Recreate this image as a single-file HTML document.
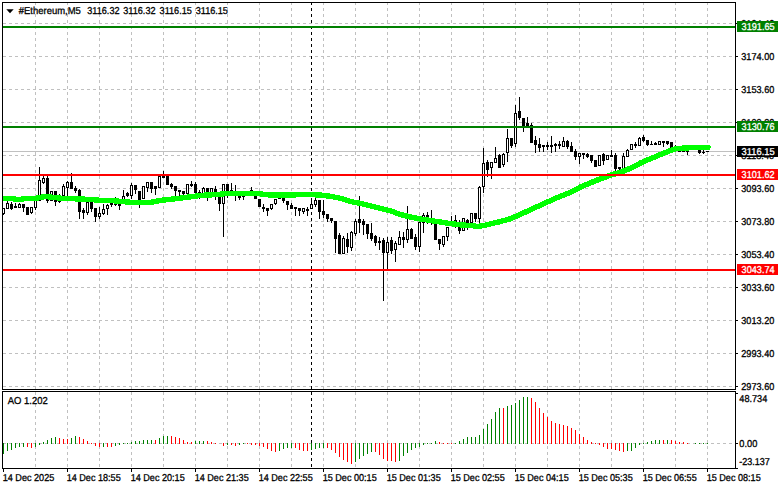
<!DOCTYPE html>
<html><head><meta charset="utf-8"><title>#Ethereum,M5</title>
<style>html,body{margin:0;padding:0;background:#fff;}body{width:781px;height:489px;overflow:hidden;font-family:"Liberation Sans",sans-serif;}svg{display:block;}</style>
</head><body>
<svg width="781" height="489" viewBox="0 0 781 489">
<rect x="0" y="0" width="781" height="489" fill="#fff"/>
<g shape-rendering="crispEdges">
<path d="M3 23.5H735" stroke="#c0c0c0" stroke-width="1" stroke-dasharray="3 3" fill="none"/>
<path d="M3 56.5H735" stroke="#c0c0c0" stroke-width="1" stroke-dasharray="3 3" fill="none"/>
<path d="M3 89.5H735" stroke="#c0c0c0" stroke-width="1" stroke-dasharray="3 3" fill="none"/>
<path d="M3 122.5H735" stroke="#c0c0c0" stroke-width="1" stroke-dasharray="3 3" fill="none"/>
<path d="M3 155.5H735" stroke="#c0c0c0" stroke-width="1" stroke-dasharray="3 3" fill="none"/>
<path d="M3 188.5H735" stroke="#c0c0c0" stroke-width="1" stroke-dasharray="3 3" fill="none"/>
<path d="M3 221.5H735" stroke="#c0c0c0" stroke-width="1" stroke-dasharray="3 3" fill="none"/>
<path d="M3 254.5H735" stroke="#c0c0c0" stroke-width="1" stroke-dasharray="3 3" fill="none"/>
<path d="M3 287.5H735" stroke="#c0c0c0" stroke-width="1" stroke-dasharray="3 3" fill="none"/>
<path d="M3 320.5H735" stroke="#c0c0c0" stroke-width="1" stroke-dasharray="3 3" fill="none"/>
<path d="M3 353.5H735" stroke="#c0c0c0" stroke-width="1" stroke-dasharray="3 3" fill="none"/>
<path d="M3 386.5H735" stroke="#c0c0c0" stroke-width="1" stroke-dasharray="3 3" fill="none"/>
<path d="M3 443.5H735" stroke="#c0c0c0" stroke-width="1" stroke-dasharray="3 3" fill="none"/>
<path d="M35.5 2V389" stroke="#c0c0c0" stroke-width="1" stroke-dasharray="3 3" fill="none"/>
<path d="M35.5 392V468" stroke="#c0c0c0" stroke-width="1" stroke-dasharray="3 3" stroke-dashoffset="0" fill="none"/>
<path d="M67.5 2V389" stroke="#c0c0c0" stroke-width="1" stroke-dasharray="3 3" fill="none"/>
<path d="M67.5 392V468" stroke="#c0c0c0" stroke-width="1" stroke-dasharray="3 3" stroke-dashoffset="0" fill="none"/>
<path d="M99.5 2V389" stroke="#c0c0c0" stroke-width="1" stroke-dasharray="3 3" fill="none"/>
<path d="M99.5 392V468" stroke="#c0c0c0" stroke-width="1" stroke-dasharray="3 3" stroke-dashoffset="0" fill="none"/>
<path d="M131.5 2V389" stroke="#c0c0c0" stroke-width="1" stroke-dasharray="3 3" fill="none"/>
<path d="M131.5 392V468" stroke="#c0c0c0" stroke-width="1" stroke-dasharray="3 3" stroke-dashoffset="0" fill="none"/>
<path d="M163.5 2V389" stroke="#c0c0c0" stroke-width="1" stroke-dasharray="3 3" fill="none"/>
<path d="M163.5 392V468" stroke="#c0c0c0" stroke-width="1" stroke-dasharray="3 3" stroke-dashoffset="0" fill="none"/>
<path d="M195.5 2V389" stroke="#c0c0c0" stroke-width="1" stroke-dasharray="3 3" fill="none"/>
<path d="M195.5 392V468" stroke="#c0c0c0" stroke-width="1" stroke-dasharray="3 3" stroke-dashoffset="0" fill="none"/>
<path d="M227.5 2V389" stroke="#c0c0c0" stroke-width="1" stroke-dasharray="3 3" fill="none"/>
<path d="M227.5 392V468" stroke="#c0c0c0" stroke-width="1" stroke-dasharray="3 3" stroke-dashoffset="0" fill="none"/>
<path d="M259.5 2V389" stroke="#c0c0c0" stroke-width="1" stroke-dasharray="3 3" fill="none"/>
<path d="M259.5 392V468" stroke="#c0c0c0" stroke-width="1" stroke-dasharray="3 3" stroke-dashoffset="0" fill="none"/>
<path d="M291.5 2V389" stroke="#c0c0c0" stroke-width="1" stroke-dasharray="3 3" fill="none"/>
<path d="M291.5 392V468" stroke="#c0c0c0" stroke-width="1" stroke-dasharray="3 3" stroke-dashoffset="0" fill="none"/>
<path d="M323.5 2V389" stroke="#c0c0c0" stroke-width="1" stroke-dasharray="3 3" fill="none"/>
<path d="M323.5 392V468" stroke="#c0c0c0" stroke-width="1" stroke-dasharray="3 3" stroke-dashoffset="0" fill="none"/>
<path d="M355.5 2V389" stroke="#c0c0c0" stroke-width="1" stroke-dasharray="3 3" fill="none"/>
<path d="M355.5 392V468" stroke="#c0c0c0" stroke-width="1" stroke-dasharray="3 3" stroke-dashoffset="0" fill="none"/>
<path d="M387.5 2V389" stroke="#c0c0c0" stroke-width="1" stroke-dasharray="3 3" fill="none"/>
<path d="M387.5 392V468" stroke="#c0c0c0" stroke-width="1" stroke-dasharray="3 3" stroke-dashoffset="0" fill="none"/>
<path d="M419.5 2V389" stroke="#c0c0c0" stroke-width="1" stroke-dasharray="3 3" fill="none"/>
<path d="M419.5 392V468" stroke="#c0c0c0" stroke-width="1" stroke-dasharray="3 3" stroke-dashoffset="0" fill="none"/>
<path d="M451.5 2V389" stroke="#c0c0c0" stroke-width="1" stroke-dasharray="3 3" fill="none"/>
<path d="M451.5 392V468" stroke="#c0c0c0" stroke-width="1" stroke-dasharray="3 3" stroke-dashoffset="0" fill="none"/>
<path d="M483.5 2V389" stroke="#c0c0c0" stroke-width="1" stroke-dasharray="3 3" fill="none"/>
<path d="M483.5 392V468" stroke="#c0c0c0" stroke-width="1" stroke-dasharray="3 3" stroke-dashoffset="0" fill="none"/>
<path d="M515.5 2V389" stroke="#c0c0c0" stroke-width="1" stroke-dasharray="3 3" fill="none"/>
<path d="M515.5 392V468" stroke="#c0c0c0" stroke-width="1" stroke-dasharray="3 3" stroke-dashoffset="0" fill="none"/>
<path d="M547.5 2V389" stroke="#c0c0c0" stroke-width="1" stroke-dasharray="3 3" fill="none"/>
<path d="M547.5 392V468" stroke="#c0c0c0" stroke-width="1" stroke-dasharray="3 3" stroke-dashoffset="0" fill="none"/>
<path d="M579.5 2V389" stroke="#c0c0c0" stroke-width="1" stroke-dasharray="3 3" fill="none"/>
<path d="M579.5 392V468" stroke="#c0c0c0" stroke-width="1" stroke-dasharray="3 3" stroke-dashoffset="0" fill="none"/>
<path d="M611.5 2V389" stroke="#c0c0c0" stroke-width="1" stroke-dasharray="3 3" fill="none"/>
<path d="M611.5 392V468" stroke="#c0c0c0" stroke-width="1" stroke-dasharray="3 3" stroke-dashoffset="0" fill="none"/>
<path d="M643.5 2V389" stroke="#c0c0c0" stroke-width="1" stroke-dasharray="3 3" fill="none"/>
<path d="M643.5 392V468" stroke="#c0c0c0" stroke-width="1" stroke-dasharray="3 3" stroke-dashoffset="0" fill="none"/>
<path d="M675.5 2V389" stroke="#c0c0c0" stroke-width="1" stroke-dasharray="3 3" fill="none"/>
<path d="M675.5 392V468" stroke="#c0c0c0" stroke-width="1" stroke-dasharray="3 3" stroke-dashoffset="0" fill="none"/>
<path d="M707.5 2V389" stroke="#c0c0c0" stroke-width="1" stroke-dasharray="3 3" fill="none"/>
<path d="M707.5 392V468" stroke="#c0c0c0" stroke-width="1" stroke-dasharray="3 3" stroke-dashoffset="0" fill="none"/>
<path d="M311.5 2V389" stroke="#000" stroke-width="1" stroke-dasharray="3 3" fill="none"/>
<path d="M311.5 392V468" stroke="#000" stroke-width="1" stroke-dasharray="3 3" fill="none"/>
<rect x="3" y="151" width="732" height="1" fill="#c0c0c0"/>
<g id="candles">
<rect x="3" y="208" width="1" height="7" fill="#000"/>
<rect x="2" y="208" width="3" height="6" fill="#000"/>
<rect x="3" y="209" width="1" height="4" fill="#fff"/>
<rect x="7" y="201" width="1" height="8" fill="#000"/>
<rect x="6" y="203" width="3" height="6" fill="#000"/>
<rect x="7" y="204" width="1" height="4" fill="#fff"/>
<rect x="11" y="202" width="1" height="8" fill="#000"/>
<rect x="10" y="204" width="3" height="5" fill="#000"/>
<rect x="15" y="203" width="1" height="5" fill="#000"/>
<rect x="14" y="206" width="3" height="2" fill="#000"/>
<rect x="19" y="203" width="1" height="5" fill="#000"/>
<rect x="18" y="204" width="3" height="4" fill="#000"/>
<rect x="19" y="205" width="1" height="2" fill="#fff"/>
<rect x="23" y="204" width="1" height="8" fill="#000"/>
<rect x="22" y="204" width="3" height="4" fill="#000"/>
<rect x="27" y="207" width="1" height="8" fill="#000"/>
<rect x="26" y="207" width="3" height="8" fill="#000"/>
<rect x="31" y="207" width="1" height="7" fill="#000"/>
<rect x="30" y="207" width="3" height="6" fill="#000"/>
<rect x="31" y="208" width="1" height="4" fill="#fff"/>
<rect x="35" y="200" width="1" height="10" fill="#000"/>
<rect x="34" y="200" width="3" height="8" fill="#000"/>
<rect x="35" y="201" width="1" height="6" fill="#fff"/>
<rect x="39" y="167" width="1" height="34" fill="#000"/>
<rect x="38" y="180" width="3" height="21" fill="#000"/>
<rect x="39" y="181" width="1" height="19" fill="#fff"/>
<rect x="43" y="176" width="1" height="8" fill="#000"/>
<rect x="42" y="178" width="3" height="5" fill="#000"/>
<rect x="43" y="179" width="1" height="3" fill="#fff"/>
<rect x="47" y="176" width="1" height="27" fill="#000"/>
<rect x="46" y="178" width="3" height="23" fill="#000"/>
<rect x="51" y="191" width="1" height="10" fill="#000"/>
<rect x="50" y="191" width="3" height="10" fill="#000"/>
<rect x="51" y="192" width="1" height="8" fill="#fff"/>
<rect x="55" y="191" width="1" height="15" fill="#000"/>
<rect x="54" y="191" width="3" height="11" fill="#000"/>
<rect x="59" y="194" width="1" height="9" fill="#000"/>
<rect x="58" y="195" width="3" height="7" fill="#000"/>
<rect x="59" y="196" width="1" height="5" fill="#fff"/>
<rect x="63" y="184" width="1" height="13" fill="#000"/>
<rect x="62" y="186" width="3" height="10" fill="#000"/>
<rect x="63" y="187" width="1" height="8" fill="#fff"/>
<rect x="67" y="181" width="1" height="16" fill="#000"/>
<rect x="66" y="182" width="3" height="6" fill="#000"/>
<rect x="67" y="183" width="1" height="4" fill="#fff"/>
<rect x="71" y="173" width="1" height="16" fill="#000"/>
<rect x="70" y="182" width="3" height="7" fill="#000"/>
<rect x="75" y="186" width="1" height="7" fill="#000"/>
<rect x="74" y="188" width="3" height="3" fill="#000"/>
<rect x="79" y="189" width="1" height="30" fill="#000"/>
<rect x="78" y="190" width="3" height="22" fill="#000"/>
<rect x="83" y="208" width="1" height="11" fill="#000"/>
<rect x="82" y="210" width="3" height="3" fill="#000"/>
<rect x="87" y="197" width="1" height="18" fill="#000"/>
<rect x="86" y="202" width="3" height="11" fill="#000"/>
<rect x="87" y="203" width="1" height="9" fill="#fff"/>
<rect x="91" y="197" width="1" height="15" fill="#000"/>
<rect x="90" y="202" width="3" height="7" fill="#000"/>
<rect x="95" y="208" width="1" height="14" fill="#000"/>
<rect x="94" y="208" width="3" height="9" fill="#000"/>
<rect x="99" y="207" width="1" height="12" fill="#000"/>
<rect x="98" y="213" width="3" height="4" fill="#000"/>
<rect x="99" y="214" width="1" height="2" fill="#fff"/>
<rect x="103" y="204" width="1" height="11" fill="#000"/>
<rect x="102" y="209" width="3" height="5" fill="#000"/>
<rect x="103" y="210" width="1" height="3" fill="#fff"/>
<rect x="107" y="204" width="1" height="11" fill="#000"/>
<rect x="106" y="205" width="3" height="4" fill="#000"/>
<rect x="107" y="206" width="1" height="2" fill="#fff"/>
<rect x="111" y="202" width="1" height="5" fill="#000"/>
<rect x="110" y="203" width="3" height="2" fill="#000"/>
<rect x="115" y="197" width="1" height="9" fill="#000"/>
<rect x="114" y="203" width="3" height="2" fill="#000"/>
<rect x="119" y="204" width="1" height="6" fill="#000"/>
<rect x="118" y="204" width="3" height="2" fill="#000"/>
<rect x="123" y="190" width="1" height="10" fill="#000"/>
<rect x="122" y="196" width="3" height="4" fill="#000"/>
<rect x="123" y="197" width="1" height="2" fill="#fff"/>
<rect x="127" y="192" width="1" height="5" fill="#000"/>
<rect x="126" y="193" width="3" height="3" fill="#000"/>
<rect x="131" y="183" width="1" height="16" fill="#000"/>
<rect x="130" y="185" width="3" height="11" fill="#000"/>
<rect x="131" y="186" width="1" height="9" fill="#fff"/>
<rect x="135" y="185" width="1" height="9" fill="#000"/>
<rect x="134" y="185" width="3" height="5" fill="#000"/>
<rect x="139" y="191" width="1" height="17" fill="#000"/>
<rect x="138" y="191" width="3" height="10" fill="#000"/>
<rect x="143" y="186" width="1" height="13" fill="#000"/>
<rect x="142" y="186" width="3" height="13" fill="#000"/>
<rect x="143" y="187" width="1" height="11" fill="#fff"/>
<rect x="147" y="182" width="1" height="10" fill="#000"/>
<rect x="146" y="182" width="3" height="6" fill="#000"/>
<rect x="147" y="183" width="1" height="4" fill="#fff"/>
<rect x="151" y="182" width="1" height="11" fill="#000"/>
<rect x="150" y="182" width="3" height="7" fill="#000"/>
<rect x="155" y="186" width="1" height="9" fill="#000"/>
<rect x="154" y="186" width="3" height="3" fill="#000"/>
<rect x="159" y="175" width="1" height="13" fill="#000"/>
<rect x="158" y="176" width="3" height="12" fill="#000"/>
<rect x="159" y="177" width="1" height="10" fill="#fff"/>
<rect x="163" y="171" width="1" height="7" fill="#000"/>
<rect x="162" y="176" width="3" height="2" fill="#000"/>
<rect x="167" y="175" width="1" height="10" fill="#000"/>
<rect x="166" y="176" width="3" height="9" fill="#000"/>
<rect x="171" y="183" width="1" height="6" fill="#000"/>
<rect x="170" y="184" width="3" height="3" fill="#000"/>
<rect x="175" y="186" width="1" height="10" fill="#000"/>
<rect x="174" y="186" width="3" height="5" fill="#000"/>
<rect x="179" y="190" width="1" height="6" fill="#000"/>
<rect x="178" y="190" width="3" height="2" fill="#000"/>
<rect x="183" y="191" width="1" height="4" fill="#000"/>
<rect x="182" y="191" width="3" height="3" fill="#000"/>
<rect x="187" y="184" width="1" height="11" fill="#000"/>
<rect x="186" y="184" width="3" height="10" fill="#000"/>
<rect x="187" y="185" width="1" height="8" fill="#fff"/>
<rect x="191" y="181" width="1" height="6" fill="#000"/>
<rect x="190" y="184" width="3" height="2" fill="#000"/>
<rect x="195" y="182" width="1" height="12" fill="#000"/>
<rect x="194" y="184" width="3" height="9" fill="#000"/>
<rect x="199" y="190" width="1" height="9" fill="#000"/>
<rect x="198" y="192" width="3" height="2" fill="#000"/>
<rect x="203" y="187" width="1" height="7" fill="#000"/>
<rect x="202" y="188" width="3" height="6" fill="#000"/>
<rect x="203" y="189" width="1" height="4" fill="#fff"/>
<rect x="207" y="188" width="1" height="13" fill="#000"/>
<rect x="206" y="188" width="3" height="5" fill="#000"/>
<rect x="211" y="188" width="1" height="5" fill="#000"/>
<rect x="210" y="188" width="3" height="5" fill="#000"/>
<rect x="211" y="189" width="1" height="3" fill="#fff"/>
<rect x="215" y="186" width="1" height="14" fill="#000"/>
<rect x="214" y="189" width="3" height="4" fill="#000"/>
<rect x="219" y="192" width="1" height="19" fill="#000"/>
<rect x="218" y="192" width="3" height="12" fill="#000"/>
<rect x="223" y="184" width="1" height="53" fill="#000"/>
<rect x="222" y="184" width="3" height="20" fill="#000"/>
<rect x="223" y="185" width="1" height="18" fill="#fff"/>
<rect x="227" y="184" width="1" height="14" fill="#000"/>
<rect x="226" y="184" width="3" height="8" fill="#000"/>
<rect x="231" y="183" width="1" height="9" fill="#000"/>
<rect x="230" y="190" width="3" height="2" fill="#000"/>
<rect x="235" y="185" width="1" height="16" fill="#000"/>
<rect x="234" y="191" width="3" height="2" fill="#000"/>
<rect x="239" y="196" width="1" height="4" fill="#000"/>
<rect x="238" y="196" width="3" height="2" fill="#000"/>
<rect x="243" y="193" width="1" height="7" fill="#000"/>
<rect x="242" y="195" width="3" height="2" fill="#000"/>
<rect x="247" y="192" width="1" height="4" fill="#000"/>
<rect x="246" y="193" width="3" height="3" fill="#000"/>
<rect x="251" y="187" width="1" height="5" fill="#000"/>
<rect x="250" y="190" width="3" height="2" fill="#000"/>
<rect x="255" y="191" width="1" height="8" fill="#000"/>
<rect x="254" y="191" width="3" height="8" fill="#000"/>
<rect x="259" y="199" width="1" height="8" fill="#000"/>
<rect x="258" y="199" width="3" height="8" fill="#000"/>
<rect x="263" y="204" width="1" height="8" fill="#000"/>
<rect x="262" y="207" width="3" height="2" fill="#000"/>
<rect x="267" y="208" width="1" height="8" fill="#000"/>
<rect x="266" y="208" width="3" height="3" fill="#000"/>
<rect x="271" y="204" width="1" height="6" fill="#000"/>
<rect x="270" y="204" width="3" height="5" fill="#000"/>
<rect x="271" y="205" width="1" height="3" fill="#fff"/>
<rect x="275" y="199" width="1" height="6" fill="#000"/>
<rect x="274" y="199" width="3" height="5" fill="#000"/>
<rect x="275" y="200" width="1" height="3" fill="#fff"/>
<rect x="279" y="195" width="1" height="4" fill="#000"/>
<rect x="278" y="196" width="3" height="3" fill="#000"/>
<rect x="283" y="197" width="1" height="6" fill="#000"/>
<rect x="282" y="197" width="3" height="4" fill="#000"/>
<rect x="287" y="201" width="1" height="9" fill="#000"/>
<rect x="286" y="201" width="3" height="4" fill="#000"/>
<rect x="291" y="203" width="1" height="6" fill="#000"/>
<rect x="290" y="205" width="3" height="4" fill="#000"/>
<rect x="295" y="207" width="1" height="9" fill="#000"/>
<rect x="294" y="207" width="3" height="2" fill="#000"/>
<rect x="299" y="208" width="1" height="8" fill="#000"/>
<rect x="298" y="208" width="3" height="3" fill="#000"/>
<rect x="303" y="208" width="1" height="6" fill="#000"/>
<rect x="302" y="208" width="3" height="4" fill="#000"/>
<rect x="303" y="209" width="1" height="2" fill="#fff"/>
<rect x="307" y="207" width="1" height="9" fill="#000"/>
<rect x="306" y="209" width="3" height="2" fill="#000"/>
<rect x="311" y="198" width="1" height="11" fill="#000"/>
<rect x="310" y="204" width="3" height="5" fill="#000"/>
<rect x="311" y="205" width="1" height="3" fill="#fff"/>
<rect x="315" y="198" width="1" height="9" fill="#000"/>
<rect x="314" y="200" width="3" height="5" fill="#000"/>
<rect x="315" y="201" width="1" height="3" fill="#fff"/>
<rect x="319" y="200" width="1" height="19" fill="#000"/>
<rect x="318" y="200" width="3" height="12" fill="#000"/>
<rect x="323" y="200" width="1" height="18" fill="#000"/>
<rect x="322" y="211" width="3" height="4" fill="#000"/>
<rect x="327" y="214" width="1" height="8" fill="#000"/>
<rect x="326" y="214" width="3" height="5" fill="#000"/>
<rect x="331" y="218" width="1" height="5" fill="#000"/>
<rect x="330" y="218" width="3" height="3" fill="#000"/>
<rect x="335" y="221" width="1" height="32" fill="#000"/>
<rect x="334" y="221" width="3" height="18" fill="#000"/>
<rect x="339" y="233" width="1" height="21" fill="#000"/>
<rect x="338" y="235" width="3" height="19" fill="#000"/>
<rect x="343" y="236" width="1" height="18" fill="#000"/>
<rect x="342" y="238" width="3" height="16" fill="#000"/>
<rect x="343" y="239" width="1" height="14" fill="#fff"/>
<rect x="347" y="233" width="1" height="20" fill="#000"/>
<rect x="346" y="239" width="3" height="8" fill="#000"/>
<rect x="351" y="231" width="1" height="20" fill="#000"/>
<rect x="350" y="232" width="3" height="16" fill="#000"/>
<rect x="351" y="233" width="1" height="14" fill="#fff"/>
<rect x="355" y="219" width="1" height="17" fill="#000"/>
<rect x="354" y="221" width="3" height="13" fill="#000"/>
<rect x="355" y="222" width="1" height="11" fill="#fff"/>
<rect x="359" y="196" width="1" height="37" fill="#000"/>
<rect x="358" y="219" width="3" height="4" fill="#000"/>
<rect x="363" y="219" width="1" height="16" fill="#000"/>
<rect x="362" y="221" width="3" height="4" fill="#000"/>
<rect x="367" y="224" width="1" height="15" fill="#000"/>
<rect x="366" y="224" width="3" height="10" fill="#000"/>
<rect x="371" y="223" width="1" height="18" fill="#000"/>
<rect x="370" y="233" width="3" height="6" fill="#000"/>
<rect x="375" y="235" width="1" height="11" fill="#000"/>
<rect x="374" y="236" width="3" height="7" fill="#000"/>
<rect x="379" y="237" width="1" height="13" fill="#000"/>
<rect x="378" y="241" width="3" height="2" fill="#000"/>
<rect x="383" y="238" width="1" height="63" fill="#000"/>
<rect x="382" y="240" width="3" height="13" fill="#000"/>
<rect x="387" y="237" width="1" height="33" fill="#000"/>
<rect x="386" y="242" width="3" height="11" fill="#000"/>
<rect x="387" y="243" width="1" height="9" fill="#fff"/>
<rect x="391" y="237" width="1" height="17" fill="#000"/>
<rect x="390" y="240" width="3" height="11" fill="#000"/>
<rect x="395" y="241" width="1" height="21" fill="#000"/>
<rect x="394" y="243" width="3" height="7" fill="#000"/>
<rect x="395" y="244" width="1" height="5" fill="#fff"/>
<rect x="399" y="231" width="1" height="14" fill="#000"/>
<rect x="398" y="237" width="3" height="8" fill="#000"/>
<rect x="399" y="238" width="1" height="6" fill="#fff"/>
<rect x="403" y="232" width="1" height="16" fill="#000"/>
<rect x="402" y="237" width="3" height="3" fill="#000"/>
<rect x="407" y="206" width="1" height="37" fill="#000"/>
<rect x="406" y="229" width="3" height="11" fill="#000"/>
<rect x="407" y="230" width="1" height="9" fill="#fff"/>
<rect x="411" y="228" width="1" height="11" fill="#000"/>
<rect x="410" y="229" width="3" height="10" fill="#000"/>
<rect x="415" y="234" width="1" height="16" fill="#000"/>
<rect x="414" y="237" width="3" height="10" fill="#000"/>
<rect x="419" y="221" width="1" height="31" fill="#000"/>
<rect x="418" y="222" width="3" height="25" fill="#000"/>
<rect x="419" y="223" width="1" height="23" fill="#fff"/>
<rect x="423" y="213" width="1" height="20" fill="#000"/>
<rect x="422" y="215" width="3" height="8" fill="#000"/>
<rect x="423" y="216" width="1" height="6" fill="#fff"/>
<rect x="427" y="212" width="1" height="12" fill="#000"/>
<rect x="426" y="215" width="3" height="8" fill="#000"/>
<rect x="431" y="210" width="1" height="15" fill="#000"/>
<rect x="430" y="221" width="3" height="2" fill="#000"/>
<rect x="435" y="222" width="1" height="18" fill="#000"/>
<rect x="434" y="222" width="3" height="18" fill="#000"/>
<rect x="439" y="239" width="1" height="11" fill="#000"/>
<rect x="438" y="239" width="3" height="5" fill="#000"/>
<rect x="443" y="236" width="1" height="11" fill="#000"/>
<rect x="442" y="236" width="3" height="9" fill="#000"/>
<rect x="443" y="237" width="1" height="7" fill="#fff"/>
<rect x="447" y="227" width="1" height="14" fill="#000"/>
<rect x="446" y="227" width="3" height="10" fill="#000"/>
<rect x="447" y="228" width="1" height="8" fill="#fff"/>
<rect x="451" y="216" width="1" height="7" fill="#000"/>
<rect x="450" y="221" width="3" height="2" fill="#000"/>
<rect x="455" y="215" width="1" height="13" fill="#000"/>
<rect x="454" y="220" width="3" height="3" fill="#000"/>
<rect x="459" y="220" width="1" height="14" fill="#000"/>
<rect x="458" y="222" width="3" height="9" fill="#000"/>
<rect x="463" y="218" width="1" height="13" fill="#000"/>
<rect x="462" y="218" width="3" height="13" fill="#000"/>
<rect x="463" y="219" width="1" height="11" fill="#fff"/>
<rect x="467" y="219" width="1" height="11" fill="#000"/>
<rect x="466" y="220" width="3" height="4" fill="#000"/>
<rect x="471" y="213" width="1" height="10" fill="#000"/>
<rect x="470" y="213" width="3" height="10" fill="#000"/>
<rect x="471" y="214" width="1" height="8" fill="#fff"/>
<rect x="475" y="213" width="1" height="9" fill="#000"/>
<rect x="474" y="213" width="3" height="6" fill="#000"/>
<rect x="479" y="186" width="1" height="37" fill="#000"/>
<rect x="478" y="187" width="3" height="32" fill="#000"/>
<rect x="479" y="188" width="1" height="30" fill="#fff"/>
<rect x="483" y="148" width="1" height="45" fill="#000"/>
<rect x="482" y="163" width="3" height="24" fill="#000"/>
<rect x="483" y="164" width="1" height="22" fill="#fff"/>
<rect x="487" y="160" width="1" height="17" fill="#000"/>
<rect x="486" y="162" width="3" height="8" fill="#000"/>
<rect x="491" y="162" width="1" height="17" fill="#000"/>
<rect x="490" y="162" width="3" height="6" fill="#000"/>
<rect x="491" y="163" width="1" height="4" fill="#fff"/>
<rect x="495" y="147" width="1" height="16" fill="#000"/>
<rect x="494" y="158" width="3" height="5" fill="#000"/>
<rect x="495" y="159" width="1" height="3" fill="#fff"/>
<rect x="499" y="154" width="1" height="14" fill="#000"/>
<rect x="498" y="155" width="3" height="13" fill="#000"/>
<rect x="503" y="153" width="1" height="14" fill="#000"/>
<rect x="502" y="154" width="3" height="11" fill="#000"/>
<rect x="503" y="155" width="1" height="9" fill="#fff"/>
<rect x="507" y="129" width="1" height="33" fill="#000"/>
<rect x="506" y="138" width="3" height="15" fill="#000"/>
<rect x="507" y="139" width="1" height="13" fill="#fff"/>
<rect x="511" y="138" width="1" height="10" fill="#000"/>
<rect x="510" y="138" width="3" height="8" fill="#000"/>
<rect x="515" y="105" width="1" height="42" fill="#000"/>
<rect x="514" y="113" width="3" height="31" fill="#000"/>
<rect x="515" y="114" width="1" height="29" fill="#fff"/>
<rect x="519" y="97" width="1" height="23" fill="#000"/>
<rect x="518" y="111" width="3" height="7" fill="#000"/>
<rect x="523" y="118" width="1" height="14" fill="#000"/>
<rect x="522" y="118" width="3" height="8" fill="#000"/>
<rect x="527" y="117" width="1" height="10" fill="#000"/>
<rect x="526" y="123" width="3" height="3" fill="#000"/>
<rect x="531" y="123" width="1" height="20" fill="#000"/>
<rect x="530" y="125" width="3" height="18" fill="#000"/>
<rect x="535" y="136" width="1" height="17" fill="#000"/>
<rect x="534" y="140" width="3" height="5" fill="#000"/>
<rect x="539" y="138" width="1" height="14" fill="#000"/>
<rect x="538" y="144" width="3" height="4" fill="#000"/>
<rect x="543" y="145" width="1" height="7" fill="#000"/>
<rect x="542" y="145" width="3" height="2" fill="#000"/>
<rect x="547" y="142" width="1" height="8" fill="#000"/>
<rect x="546" y="145" width="3" height="2" fill="#000"/>
<rect x="551" y="136" width="1" height="17" fill="#000"/>
<rect x="550" y="145" width="3" height="2" fill="#000"/>
<rect x="555" y="143" width="1" height="9" fill="#000"/>
<rect x="554" y="144" width="3" height="2" fill="#000"/>
<rect x="559" y="141" width="1" height="8" fill="#000"/>
<rect x="558" y="144" width="3" height="2" fill="#000"/>
<rect x="563" y="137" width="1" height="10" fill="#000"/>
<rect x="562" y="141" width="3" height="6" fill="#000"/>
<rect x="563" y="142" width="1" height="4" fill="#fff"/>
<rect x="567" y="140" width="1" height="9" fill="#000"/>
<rect x="566" y="141" width="3" height="6" fill="#000"/>
<rect x="571" y="142" width="1" height="10" fill="#000"/>
<rect x="570" y="146" width="3" height="6" fill="#000"/>
<rect x="575" y="149" width="1" height="11" fill="#000"/>
<rect x="574" y="151" width="3" height="6" fill="#000"/>
<rect x="579" y="153" width="1" height="11" fill="#000"/>
<rect x="578" y="153" width="3" height="4" fill="#000"/>
<rect x="579" y="154" width="1" height="2" fill="#fff"/>
<rect x="583" y="153" width="1" height="6" fill="#000"/>
<rect x="582" y="153" width="3" height="2" fill="#000"/>
<rect x="587" y="153" width="1" height="5" fill="#000"/>
<rect x="586" y="154" width="3" height="3" fill="#000"/>
<rect x="591" y="155" width="1" height="8" fill="#000"/>
<rect x="590" y="155" width="3" height="6" fill="#000"/>
<rect x="595" y="160" width="1" height="7" fill="#000"/>
<rect x="594" y="160" width="3" height="7" fill="#000"/>
<rect x="599" y="155" width="1" height="11" fill="#000"/>
<rect x="598" y="155" width="3" height="11" fill="#000"/>
<rect x="599" y="156" width="1" height="9" fill="#fff"/>
<rect x="603" y="153" width="1" height="12" fill="#000"/>
<rect x="602" y="154" width="3" height="7" fill="#000"/>
<rect x="607" y="155" width="1" height="5" fill="#000"/>
<rect x="606" y="155" width="3" height="5" fill="#000"/>
<rect x="607" y="156" width="1" height="3" fill="#fff"/>
<rect x="611" y="150" width="1" height="7" fill="#000"/>
<rect x="610" y="155" width="3" height="2" fill="#000"/>
<rect x="615" y="153" width="1" height="18" fill="#000"/>
<rect x="614" y="155" width="3" height="14" fill="#000"/>
<rect x="619" y="167" width="1" height="3" fill="#000"/>
<rect x="618" y="167" width="3" height="2" fill="#000"/>
<rect x="623" y="153" width="1" height="16" fill="#000"/>
<rect x="622" y="156" width="3" height="13" fill="#000"/>
<rect x="623" y="157" width="1" height="11" fill="#fff"/>
<rect x="627" y="149" width="1" height="8" fill="#000"/>
<rect x="626" y="150" width="3" height="7" fill="#000"/>
<rect x="627" y="151" width="1" height="5" fill="#fff"/>
<rect x="631" y="144" width="1" height="6" fill="#000"/>
<rect x="630" y="144" width="3" height="6" fill="#000"/>
<rect x="631" y="145" width="1" height="4" fill="#fff"/>
<rect x="635" y="142" width="1" height="6" fill="#000"/>
<rect x="634" y="144" width="3" height="2" fill="#000"/>
<rect x="639" y="137" width="1" height="9" fill="#000"/>
<rect x="638" y="138" width="3" height="8" fill="#000"/>
<rect x="639" y="139" width="1" height="6" fill="#fff"/>
<rect x="643" y="135" width="1" height="7" fill="#000"/>
<rect x="642" y="137" width="3" height="4" fill="#000"/>
<rect x="647" y="140" width="1" height="6" fill="#000"/>
<rect x="646" y="140" width="3" height="5" fill="#000"/>
<rect x="651" y="141" width="1" height="4" fill="#000"/>
<rect x="650" y="144" width="3" height="1" fill="#000"/>
<rect x="655" y="142" width="1" height="3" fill="#000"/>
<rect x="654" y="143" width="3" height="2" fill="#000"/>
<rect x="659" y="141" width="1" height="4" fill="#000"/>
<rect x="658" y="141" width="3" height="4" fill="#000"/>
<rect x="659" y="142" width="1" height="2" fill="#fff"/>
<rect x="663" y="141" width="1" height="6" fill="#000"/>
<rect x="662" y="141" width="3" height="2" fill="#000"/>
<rect x="667" y="141" width="1" height="4" fill="#000"/>
<rect x="666" y="141" width="3" height="3" fill="#000"/>
<rect x="671" y="142" width="1" height="6" fill="#000"/>
<rect x="670" y="142" width="3" height="6" fill="#000"/>
<rect x="675" y="145" width="1" height="5" fill="#000"/>
<rect x="674" y="147" width="3" height="3" fill="#000"/>
<rect x="679" y="151" width="1" height="1" fill="#000"/>
<rect x="678" y="151" width="3" height="1" fill="#000"/>
<rect x="683" y="151" width="1" height="1" fill="#000"/>
<rect x="682" y="151" width="3" height="1" fill="#000"/>
<rect x="687" y="151" width="1" height="4" fill="#000"/>
<rect x="686" y="151" width="3" height="1" fill="#000"/>
<rect x="691" y="148" width="1" height="2" fill="#000"/>
<rect x="690" y="148" width="3" height="2" fill="#000"/>
<rect x="695" y="148" width="1" height="2" fill="#000"/>
<rect x="694" y="148" width="3" height="2" fill="#000"/>
<rect x="699" y="150" width="1" height="4" fill="#000"/>
<rect x="698" y="150" width="3" height="3" fill="#000"/>
<rect x="703" y="150" width="1" height="4" fill="#000"/>
<rect x="702" y="152" width="3" height="1" fill="#000"/>
<rect x="707" y="151" width="1" height="1" fill="#000"/>
<rect x="706" y="151" width="3" height="1" fill="#000"/>
</g>
</g>
<g shape-rendering="crispEdges" fill="#00ff00">
<rect x="3" y="196" width="10" height="5"/>
<rect x="13" y="196" width="3" height="6"/>
<rect x="16" y="197" width="5" height="5"/>
<rect x="21" y="196" width="3" height="6"/>
<rect x="24" y="196" width="12" height="5"/>
<rect x="36" y="195" width="3" height="6"/>
<rect x="39" y="195" width="2" height="5"/>
<rect x="41" y="194" width="3" height="6"/>
<rect x="44" y="194" width="4" height="5"/>
<rect x="48" y="194" width="4" height="6"/>
<rect x="52" y="195" width="5" height="5"/>
<rect x="57" y="195" width="4" height="6"/>
<rect x="61" y="196" width="14" height="5"/>
<rect x="75" y="196" width="10" height="6"/>
<rect x="85" y="197" width="9" height="5"/>
<rect x="94" y="197" width="5" height="6"/>
<rect x="99" y="198" width="15" height="5"/>
<rect x="114" y="198" width="5" height="6"/>
<rect x="119" y="199" width="6" height="5"/>
<rect x="125" y="199" width="5" height="6"/>
<rect x="130" y="200" width="21" height="5"/>
<rect x="151" y="199" width="3" height="6"/>
<rect x="154" y="199" width="2" height="5"/>
<rect x="156" y="198" width="3" height="6"/>
<rect x="159" y="198" width="3" height="5"/>
<rect x="162" y="197" width="4" height="6"/>
<rect x="166" y="197" width="5" height="5"/>
<rect x="171" y="196" width="4" height="6"/>
<rect x="175" y="196" width="5" height="5"/>
<rect x="180" y="195" width="3" height="6"/>
<rect x="183" y="195" width="4" height="5"/>
<rect x="187" y="194" width="4" height="6"/>
<rect x="191" y="194" width="4" height="5"/>
<rect x="195" y="193" width="3" height="6"/>
<rect x="198" y="193" width="6" height="5"/>
<rect x="204" y="192" width="8" height="6"/>
<rect x="212" y="192" width="8" height="5"/>
<rect x="220" y="191" width="4" height="6"/>
<rect x="224" y="191" width="36" height="5"/>
<rect x="260" y="191" width="3" height="6"/>
<rect x="263" y="192" width="5" height="5"/>
<rect x="268" y="192" width="28" height="6"/>
<rect x="296" y="192" width="19" height="5"/>
<rect x="315" y="192" width="7" height="6"/>
<rect x="322" y="193" width="4" height="5"/>
<rect x="326" y="193" width="4" height="6"/>
<rect x="330" y="194" width="3" height="5"/>
<rect x="333" y="194" width="2" height="6"/>
<rect x="335" y="195" width="3" height="5"/>
<rect x="338" y="195" width="2" height="6"/>
<rect x="340" y="196" width="2" height="5"/>
<rect x="342" y="196" width="2" height="6"/>
<rect x="344" y="197" width="1" height="5"/>
<rect x="345" y="197" width="2" height="6"/>
<rect x="347" y="198" width="1" height="5"/>
<rect x="348" y="198" width="2" height="6"/>
<rect x="350" y="199" width="2" height="5"/>
<rect x="352" y="199" width="2" height="6"/>
<rect x="354" y="200" width="3" height="5"/>
<rect x="357" y="200" width="3" height="6"/>
<rect x="360" y="201" width="2" height="5"/>
<rect x="362" y="201" width="2" height="6"/>
<rect x="364" y="202" width="2" height="5"/>
<rect x="366" y="202" width="2" height="6"/>
<rect x="368" y="203" width="2" height="5"/>
<rect x="370" y="203" width="2" height="6"/>
<rect x="372" y="204" width="2" height="5"/>
<rect x="374" y="204" width="2" height="6"/>
<rect x="376" y="205" width="2" height="5"/>
<rect x="378" y="205" width="2" height="6"/>
<rect x="380" y="206" width="2" height="5"/>
<rect x="382" y="206" width="2" height="6"/>
<rect x="384" y="207" width="2" height="5"/>
<rect x="386" y="207" width="2" height="6"/>
<rect x="388" y="208" width="2" height="5"/>
<rect x="390" y="208" width="2" height="6"/>
<rect x="392" y="209" width="1" height="5"/>
<rect x="393" y="209" width="2" height="6"/>
<rect x="395" y="210" width="2" height="6"/>
<rect x="397" y="211" width="1" height="5"/>
<rect x="398" y="211" width="2" height="6"/>
<rect x="400" y="212" width="1" height="5"/>
<rect x="401" y="212" width="3" height="6"/>
<rect x="404" y="213" width="1" height="5"/>
<rect x="405" y="213" width="3" height="6"/>
<rect x="408" y="214" width="1" height="5"/>
<rect x="409" y="214" width="3" height="6"/>
<rect x="412" y="215" width="2" height="5"/>
<rect x="414" y="215" width="3" height="6"/>
<rect x="417" y="216" width="2" height="5"/>
<rect x="419" y="216" width="3" height="6"/>
<rect x="422" y="217" width="4" height="5"/>
<rect x="426" y="217" width="3" height="6"/>
<rect x="429" y="218" width="3" height="5"/>
<rect x="432" y="218" width="3" height="6"/>
<rect x="435" y="219" width="4" height="5"/>
<rect x="439" y="219" width="3" height="6"/>
<rect x="442" y="220" width="3" height="5"/>
<rect x="445" y="220" width="3" height="6"/>
<rect x="448" y="221" width="4" height="5"/>
<rect x="452" y="221" width="4" height="6"/>
<rect x="456" y="222" width="4" height="5"/>
<rect x="460" y="222" width="6" height="6"/>
<rect x="466" y="223" width="7" height="5"/>
<rect x="473" y="223" width="3" height="6"/>
<rect x="476" y="224" width="3" height="5"/>
<rect x="479" y="223" width="3" height="6"/>
<rect x="482" y="223" width="3" height="5"/>
<rect x="485" y="222" width="2" height="6"/>
<rect x="487" y="222" width="2" height="5"/>
<rect x="489" y="221" width="2" height="6"/>
<rect x="491" y="221" width="2" height="5"/>
<rect x="493" y="220" width="2" height="6"/>
<rect x="495" y="220" width="2" height="5"/>
<rect x="497" y="219" width="3" height="6"/>
<rect x="500" y="219" width="1" height="5"/>
<rect x="501" y="218" width="2" height="6"/>
<rect x="503" y="218" width="2" height="5"/>
<rect x="505" y="217" width="2" height="6"/>
<rect x="507" y="217" width="1" height="5"/>
<rect x="508" y="216" width="3" height="6"/>
<rect x="511" y="215" width="2" height="6"/>
<rect x="513" y="214" width="2" height="6"/>
<rect x="515" y="214" width="1" height="5"/>
<rect x="516" y="213" width="2" height="6"/>
<rect x="518" y="212" width="2" height="6"/>
<rect x="520" y="211" width="2" height="6"/>
<rect x="522" y="210" width="2" height="6"/>
<rect x="524" y="209" width="3" height="6"/>
<rect x="527" y="208" width="2" height="6"/>
<rect x="529" y="207" width="2" height="6"/>
<rect x="531" y="206" width="2" height="6"/>
<rect x="533" y="205" width="2" height="6"/>
<rect x="535" y="204" width="2" height="6"/>
<rect x="537" y="204" width="1" height="5"/>
<rect x="538" y="203" width="2" height="6"/>
<rect x="540" y="202" width="2" height="6"/>
<rect x="542" y="201" width="2" height="6"/>
<rect x="544" y="200" width="2" height="6"/>
<rect x="546" y="199" width="2" height="6"/>
<rect x="548" y="199" width="1" height="5"/>
<rect x="549" y="198" width="2" height="6"/>
<rect x="551" y="197" width="2" height="6"/>
<rect x="553" y="196" width="2" height="6"/>
<rect x="555" y="195" width="2" height="6"/>
<rect x="557" y="195" width="1" height="5"/>
<rect x="558" y="194" width="2" height="6"/>
<rect x="560" y="193" width="2" height="6"/>
<rect x="562" y="193" width="1" height="5"/>
<rect x="563" y="192" width="2" height="6"/>
<rect x="565" y="191" width="2" height="6"/>
<rect x="567" y="191" width="1" height="5"/>
<rect x="568" y="190" width="2" height="6"/>
<rect x="570" y="189" width="2" height="6"/>
<rect x="572" y="188" width="2" height="6"/>
<rect x="574" y="187" width="2" height="6"/>
<rect x="576" y="186" width="2" height="6"/>
<rect x="578" y="185" width="1" height="6"/>
<rect x="579" y="184" width="1" height="7"/>
<rect x="580" y="184" width="2" height="6"/>
<rect x="582" y="183" width="2" height="6"/>
<rect x="584" y="182" width="2" height="6"/>
<rect x="586" y="182" width="1" height="5"/>
<rect x="587" y="181" width="2" height="6"/>
<rect x="589" y="180" width="2" height="6"/>
<rect x="591" y="179" width="3" height="6"/>
<rect x="594" y="178" width="2" height="6"/>
<rect x="596" y="177" width="3" height="6"/>
<rect x="599" y="176" width="2" height="6"/>
<rect x="601" y="176" width="1" height="5"/>
<rect x="602" y="175" width="2" height="6"/>
<rect x="604" y="174" width="3" height="6"/>
<rect x="607" y="173" width="2" height="6"/>
<rect x="609" y="173" width="1" height="5"/>
<rect x="610" y="172" width="2" height="6"/>
<rect x="612" y="172" width="1" height="5"/>
<rect x="613" y="171" width="3" height="6"/>
<rect x="616" y="171" width="1" height="5"/>
<rect x="617" y="170" width="2" height="6"/>
<rect x="619" y="170" width="1" height="5"/>
<rect x="620" y="169" width="2" height="6"/>
<rect x="622" y="168" width="3" height="6"/>
<rect x="625" y="167" width="2" height="6"/>
<rect x="627" y="166" width="3" height="6"/>
<rect x="630" y="165" width="2" height="6"/>
<rect x="632" y="164" width="2" height="6"/>
<rect x="634" y="163" width="2" height="6"/>
<rect x="636" y="162" width="2" height="6"/>
<rect x="638" y="161" width="1" height="6"/>
<rect x="639" y="160" width="1" height="7"/>
<rect x="640" y="160" width="2" height="6"/>
<rect x="642" y="159" width="2" height="6"/>
<rect x="644" y="158" width="2" height="6"/>
<rect x="646" y="157" width="2" height="6"/>
<rect x="648" y="157" width="1" height="5"/>
<rect x="649" y="156" width="2" height="6"/>
<rect x="651" y="155" width="2" height="6"/>
<rect x="653" y="155" width="1" height="5"/>
<rect x="654" y="154" width="2" height="6"/>
<rect x="656" y="153" width="2" height="6"/>
<rect x="658" y="152" width="2" height="6"/>
<rect x="660" y="152" width="1" height="5"/>
<rect x="661" y="151" width="2" height="6"/>
<rect x="663" y="150" width="2" height="6"/>
<rect x="665" y="150" width="1" height="5"/>
<rect x="666" y="149" width="2" height="6"/>
<rect x="668" y="148" width="2" height="6"/>
<rect x="670" y="148" width="1" height="5"/>
<rect x="671" y="147" width="2" height="6"/>
<rect x="673" y="147" width="1" height="5"/>
<rect x="674" y="146" width="2" height="6"/>
<rect x="676" y="146" width="6" height="5"/>
<rect x="682" y="145" width="7" height="6"/>
<rect x="689" y="145" width="21" height="5"/>
<rect x="710" y="146" width="1" height="2"/>
</g>
<g shape-rendering="crispEdges">
<rect x="3" y="26" width="732" height="2" fill="#008000"/>
<rect x="3" y="126" width="732" height="2" fill="#008000"/>
<rect x="3" y="174" width="732" height="2" fill="#ff0000"/>
<rect x="3" y="269" width="732" height="2" fill="#ff0000"/>
<rect x="3" y="443" width="1" height="11" fill="#008000"/>
<rect x="7" y="443" width="1" height="8" fill="#008000"/>
<rect x="11" y="443" width="1" height="7" fill="#008000"/>
<rect x="15" y="443" width="1" height="5" fill="#008000"/>
<rect x="19" y="443" width="1" height="4" fill="#008000"/>
<rect x="23" y="443" width="1" height="4" fill="#008000"/>
<rect x="27" y="443" width="1" height="4" fill="#ff0000"/>
<rect x="31" y="443" width="1" height="5" fill="#ff0000"/>
<rect x="35" y="443" width="1" height="4" fill="#008000"/>
<rect x="39" y="443" width="1" height="2" fill="#008000"/>
<rect x="43" y="442" width="1" height="2" fill="#008000"/>
<rect x="47" y="440" width="1" height="4" fill="#008000"/>
<rect x="51" y="438" width="1" height="6" fill="#008000"/>
<rect x="55" y="437" width="1" height="7" fill="#008000"/>
<rect x="59" y="438" width="1" height="6" fill="#ff0000"/>
<rect x="63" y="439" width="1" height="5" fill="#ff0000"/>
<rect x="67" y="439" width="1" height="5" fill="#ff0000"/>
<rect x="71" y="438" width="1" height="6" fill="#008000"/>
<rect x="75" y="436" width="1" height="8" fill="#008000"/>
<rect x="79" y="437" width="1" height="7" fill="#ff0000"/>
<rect x="83" y="439" width="1" height="5" fill="#ff0000"/>
<rect x="87" y="441" width="1" height="3" fill="#ff0000"/>
<rect x="91" y="443" width="1" height="1" fill="#ff0000"/>
<rect x="95" y="443" width="1" height="3" fill="#ff0000"/>
<rect x="99" y="443" width="1" height="4" fill="#ff0000"/>
<rect x="103" y="443" width="1" height="4" fill="#008000"/>
<rect x="107" y="443" width="1" height="4" fill="#ff0000"/>
<rect x="111" y="443" width="1" height="4" fill="#ff0000"/>
<rect x="115" y="443" width="1" height="3" fill="#008000"/>
<rect x="119" y="443" width="1" height="2" fill="#008000"/>
<rect x="123" y="443" width="1" height="1" fill="#008000"/>
<rect x="127" y="443" width="1" height="1" fill="#008000"/>
<rect x="131" y="442" width="1" height="2" fill="#008000"/>
<rect x="135" y="441" width="1" height="3" fill="#008000"/>
<rect x="139" y="441" width="1" height="3" fill="#008000"/>
<rect x="143" y="440" width="1" height="4" fill="#008000"/>
<rect x="147" y="440" width="1" height="4" fill="#008000"/>
<rect x="151" y="440" width="1" height="4" fill="#008000"/>
<rect x="155" y="440" width="1" height="4" fill="#ff0000"/>
<rect x="159" y="438" width="1" height="6" fill="#008000"/>
<rect x="163" y="436" width="1" height="8" fill="#008000"/>
<rect x="167" y="436" width="1" height="8" fill="#008000"/>
<rect x="171" y="436" width="1" height="8" fill="#ff0000"/>
<rect x="175" y="437" width="1" height="7" fill="#ff0000"/>
<rect x="179" y="438" width="1" height="6" fill="#ff0000"/>
<rect x="183" y="440" width="1" height="4" fill="#ff0000"/>
<rect x="187" y="442" width="1" height="2" fill="#ff0000"/>
<rect x="191" y="442" width="1" height="2" fill="#ff0000"/>
<rect x="195" y="441" width="1" height="3" fill="#008000"/>
<rect x="199" y="441" width="1" height="3" fill="#008000"/>
<rect x="203" y="441" width="1" height="3" fill="#008000"/>
<rect x="207" y="441" width="1" height="3" fill="#ff0000"/>
<rect x="211" y="442" width="1" height="2" fill="#ff0000"/>
<rect x="215" y="443" width="1" height="1" fill="#ff0000"/>
<rect x="223" y="443" width="1" height="3" fill="#ff0000"/>
<rect x="227" y="443" width="1" height="2" fill="#008000"/>
<rect x="231" y="443" width="1" height="2" fill="#ff0000"/>
<rect x="235" y="443" width="1" height="3" fill="#ff0000"/>
<rect x="239" y="443" width="1" height="2" fill="#008000"/>
<rect x="243" y="443" width="1" height="1" fill="#008000"/>
<rect x="247" y="443" width="1" height="1" fill="#ff0000"/>
<rect x="251" y="443" width="1" height="2" fill="#ff0000"/>
<rect x="255" y="443" width="1" height="2" fill="#ff0000"/>
<rect x="259" y="443" width="1" height="3" fill="#ff0000"/>
<rect x="263" y="443" width="1" height="4" fill="#ff0000"/>
<rect x="267" y="443" width="1" height="6" fill="#ff0000"/>
<rect x="271" y="443" width="1" height="8" fill="#ff0000"/>
<rect x="275" y="443" width="1" height="9" fill="#ff0000"/>
<rect x="279" y="443" width="1" height="8" fill="#008000"/>
<rect x="283" y="443" width="1" height="6" fill="#008000"/>
<rect x="287" y="443" width="1" height="5" fill="#008000"/>
<rect x="291" y="443" width="1" height="5" fill="#008000"/>
<rect x="295" y="443" width="1" height="5" fill="#ff0000"/>
<rect x="299" y="443" width="1" height="7" fill="#ff0000"/>
<rect x="303" y="443" width="1" height="8" fill="#ff0000"/>
<rect x="307" y="443" width="1" height="8" fill="#ff0000"/>
<rect x="311" y="443" width="1" height="7" fill="#008000"/>
<rect x="315" y="443" width="1" height="6" fill="#008000"/>
<rect x="319" y="443" width="1" height="5" fill="#008000"/>
<rect x="323" y="443" width="1" height="5" fill="#008000"/>
<rect x="327" y="443" width="1" height="5" fill="#ff0000"/>
<rect x="331" y="443" width="1" height="7" fill="#ff0000"/>
<rect x="335" y="443" width="1" height="10" fill="#ff0000"/>
<rect x="339" y="443" width="1" height="14" fill="#ff0000"/>
<rect x="343" y="443" width="1" height="17" fill="#ff0000"/>
<rect x="347" y="443" width="1" height="19" fill="#ff0000"/>
<rect x="351" y="443" width="1" height="21" fill="#ff0000"/>
<rect x="355" y="443" width="1" height="19" fill="#008000"/>
<rect x="359" y="443" width="1" height="16" fill="#008000"/>
<rect x="363" y="443" width="1" height="13" fill="#008000"/>
<rect x="367" y="443" width="1" height="11" fill="#008000"/>
<rect x="371" y="443" width="1" height="9" fill="#008000"/>
<rect x="375" y="443" width="1" height="9" fill="#ff0000"/>
<rect x="379" y="443" width="1" height="12" fill="#ff0000"/>
<rect x="383" y="443" width="1" height="16" fill="#ff0000"/>
<rect x="387" y="443" width="1" height="18" fill="#ff0000"/>
<rect x="391" y="443" width="1" height="18" fill="#ff0000"/>
<rect x="395" y="443" width="1" height="19" fill="#ff0000"/>
<rect x="399" y="443" width="1" height="18" fill="#008000"/>
<rect x="403" y="443" width="1" height="13" fill="#008000"/>
<rect x="407" y="443" width="1" height="10" fill="#008000"/>
<rect x="411" y="443" width="1" height="7" fill="#008000"/>
<rect x="415" y="443" width="1" height="5" fill="#008000"/>
<rect x="419" y="443" width="1" height="4" fill="#008000"/>
<rect x="423" y="443" width="1" height="2" fill="#008000"/>
<rect x="427" y="443" width="1" height="1" fill="#008000"/>
<rect x="431" y="443" width="1" height="1" fill="#008000"/>
<rect x="435" y="441" width="1" height="3" fill="#008000"/>
<rect x="439" y="442" width="1" height="2" fill="#ff0000"/>
<rect x="443" y="443" width="1" height="1" fill="#ff0000"/>
<rect x="447" y="443" width="1" height="1" fill="#ff0000"/>
<rect x="451" y="443" width="1" height="1" fill="#ff0000"/>
<rect x="455" y="443" width="1" height="1" fill="#008000"/>
<rect x="459" y="441" width="1" height="3" fill="#008000"/>
<rect x="463" y="439" width="1" height="5" fill="#008000"/>
<rect x="467" y="437" width="1" height="7" fill="#008000"/>
<rect x="471" y="437" width="1" height="7" fill="#008000"/>
<rect x="475" y="437" width="1" height="7" fill="#008000"/>
<rect x="479" y="435" width="1" height="9" fill="#008000"/>
<rect x="483" y="429" width="1" height="15" fill="#008000"/>
<rect x="487" y="424" width="1" height="20" fill="#008000"/>
<rect x="491" y="419" width="1" height="25" fill="#008000"/>
<rect x="495" y="412" width="1" height="32" fill="#008000"/>
<rect x="499" y="408" width="1" height="36" fill="#008000"/>
<rect x="503" y="408" width="1" height="36" fill="#ff0000"/>
<rect x="507" y="406" width="1" height="38" fill="#008000"/>
<rect x="511" y="405" width="1" height="39" fill="#008000"/>
<rect x="515" y="403" width="1" height="41" fill="#008000"/>
<rect x="519" y="400" width="1" height="44" fill="#008000"/>
<rect x="523" y="397" width="1" height="47" fill="#008000"/>
<rect x="527" y="397" width="1" height="47" fill="#008000"/>
<rect x="531" y="398" width="1" height="46" fill="#ff0000"/>
<rect x="535" y="402" width="1" height="42" fill="#ff0000"/>
<rect x="539" y="408" width="1" height="36" fill="#ff0000"/>
<rect x="543" y="413" width="1" height="31" fill="#ff0000"/>
<rect x="547" y="417" width="1" height="27" fill="#ff0000"/>
<rect x="551" y="421" width="1" height="23" fill="#ff0000"/>
<rect x="555" y="423" width="1" height="21" fill="#ff0000"/>
<rect x="559" y="424" width="1" height="20" fill="#ff0000"/>
<rect x="563" y="425" width="1" height="19" fill="#ff0000"/>
<rect x="567" y="426" width="1" height="18" fill="#ff0000"/>
<rect x="571" y="428" width="1" height="16" fill="#ff0000"/>
<rect x="575" y="430" width="1" height="14" fill="#ff0000"/>
<rect x="579" y="434" width="1" height="10" fill="#ff0000"/>
<rect x="583" y="437" width="1" height="7" fill="#ff0000"/>
<rect x="587" y="440" width="1" height="4" fill="#ff0000"/>
<rect x="591" y="442" width="1" height="2" fill="#ff0000"/>
<rect x="595" y="443" width="1" height="1" fill="#ff0000"/>
<rect x="599" y="443" width="1" height="2" fill="#ff0000"/>
<rect x="603" y="443" width="1" height="4" fill="#ff0000"/>
<rect x="607" y="443" width="1" height="6" fill="#ff0000"/>
<rect x="611" y="443" width="1" height="6" fill="#ff0000"/>
<rect x="615" y="443" width="1" height="7" fill="#ff0000"/>
<rect x="619" y="443" width="1" height="8" fill="#ff0000"/>
<rect x="623" y="443" width="1" height="9" fill="#ff0000"/>
<rect x="627" y="443" width="1" height="8" fill="#008000"/>
<rect x="631" y="443" width="1" height="8" fill="#008000"/>
<rect x="635" y="443" width="1" height="5" fill="#008000"/>
<rect x="639" y="443" width="1" height="2" fill="#008000"/>
<rect x="643" y="443" width="1" height="1" fill="#008000"/>
<rect x="647" y="442" width="1" height="2" fill="#008000"/>
<rect x="651" y="441" width="1" height="3" fill="#008000"/>
<rect x="655" y="440" width="1" height="4" fill="#008000"/>
<rect x="659" y="440" width="1" height="4" fill="#008000"/>
<rect x="663" y="440" width="1" height="4" fill="#ff0000"/>
<rect x="667" y="440" width="1" height="4" fill="#008000"/>
<rect x="671" y="440" width="1" height="4" fill="#ff0000"/>
<rect x="675" y="441" width="1" height="3" fill="#ff0000"/>
<rect x="679" y="442" width="1" height="2" fill="#ff0000"/>
<rect x="683" y="442" width="1" height="2" fill="#ff0000"/>
<rect x="687" y="443" width="1" height="1" fill="#ff0000"/>
<rect x="695" y="443" width="1" height="1" fill="#008000"/>
<rect x="699" y="443" width="1" height="1" fill="#008000"/>
<rect x="703" y="443" width="1" height="1" fill="#008000"/>
<rect x="707" y="443" width="1" height="1" fill="#008000"/>
<rect x="2" y="2" width="734" height="1" fill="#000"/>
<rect x="2" y="389" width="734" height="1" fill="#000"/>
<rect x="2" y="391" width="734" height="1" fill="#000"/>
<rect x="2" y="468" width="734" height="1" fill="#000"/>
<rect x="2" y="2" width="1" height="388" fill="#000"/>
<rect x="2" y="391" width="1" height="78" fill="#000"/>
<rect x="735" y="2" width="1" height="388" fill="#000"/>
<rect x="735" y="391" width="1" height="78" fill="#000"/>
<rect x="736" y="23" width="2" height="1" fill="#000"/>
<rect x="736" y="56" width="2" height="1" fill="#000"/>
<rect x="736" y="89" width="2" height="1" fill="#000"/>
<rect x="736" y="122" width="2" height="1" fill="#000"/>
<rect x="736" y="155" width="2" height="1" fill="#000"/>
<rect x="736" y="188" width="2" height="1" fill="#000"/>
<rect x="736" y="221" width="2" height="1" fill="#000"/>
<rect x="736" y="254" width="2" height="1" fill="#000"/>
<rect x="736" y="287" width="2" height="1" fill="#000"/>
<rect x="736" y="320" width="2" height="1" fill="#000"/>
<rect x="736" y="353" width="2" height="1" fill="#000"/>
<rect x="736" y="386" width="2" height="1" fill="#000"/>
<rect x="736" y="393" width="2" height="1" fill="#000"/>
<rect x="736" y="443" width="2" height="1" fill="#000"/>
<rect x="736" y="468" width="2" height="1" fill="#000"/>
<rect x="3" y="469" width="1" height="3" fill="#000"/>
<rect x="67" y="469" width="1" height="3" fill="#000"/>
<rect x="131" y="469" width="1" height="3" fill="#000"/>
<rect x="195" y="469" width="1" height="3" fill="#000"/>
<rect x="259" y="469" width="1" height="3" fill="#000"/>
<rect x="323" y="469" width="1" height="3" fill="#000"/>
<rect x="387" y="469" width="1" height="3" fill="#000"/>
<rect x="451" y="469" width="1" height="3" fill="#000"/>
<rect x="515" y="469" width="1" height="3" fill="#000"/>
<rect x="579" y="469" width="1" height="3" fill="#000"/>
<rect x="643" y="469" width="1" height="3" fill="#000"/>
<rect x="707" y="469" width="1" height="3" fill="#000"/>
<rect x="737" y="21" width="41" height="11" fill="#008000"/>
<rect x="737" y="121" width="41" height="11" fill="#008000"/>
<rect x="737" y="169" width="41" height="11" fill="#ff0000"/>
<rect x="737" y="264" width="41" height="11" fill="#ff0000"/>
<rect x="737" y="146" width="41" height="11" fill="#000"/>
<path d="M6.3 9.2H13.7L10 13.2Z" fill="#000" shape-rendering="geometricPrecision"/>
</g>
<g font-family="'Liberation Sans', sans-serif" font-size="10.0px" stroke-width="0.3" text-rendering="geometricPrecision">
<g id="glabels">
<text x="741.3" y="27" fill="#000" stroke="#000" textLength="33" lengthAdjust="spacingAndGlyphs">3194.40</text>
<text x="741.3" y="60" fill="#000" stroke="#000" textLength="33" lengthAdjust="spacingAndGlyphs">3174.00</text>
<text x="741.3" y="93" fill="#000" stroke="#000" textLength="33" lengthAdjust="spacingAndGlyphs">3153.60</text>
<text x="741.3" y="126" fill="#000" stroke="#000" textLength="33" lengthAdjust="spacingAndGlyphs">3133.20</text>
<text x="741.3" y="159" fill="#000" stroke="#000" textLength="33" lengthAdjust="spacingAndGlyphs">3113.40</text>
<text x="741.3" y="192" fill="#000" stroke="#000" textLength="33" lengthAdjust="spacingAndGlyphs">3093.60</text>
<text x="741.3" y="225" fill="#000" stroke="#000" textLength="33" lengthAdjust="spacingAndGlyphs">3073.80</text>
<text x="741.3" y="258" fill="#000" stroke="#000" textLength="33" lengthAdjust="spacingAndGlyphs">3053.40</text>
<text x="741.3" y="291" fill="#000" stroke="#000" textLength="33" lengthAdjust="spacingAndGlyphs">3033.60</text>
<text x="741.3" y="324" fill="#000" stroke="#000" textLength="33" lengthAdjust="spacingAndGlyphs">3013.20</text>
<text x="741.3" y="357" fill="#000" stroke="#000" textLength="33" lengthAdjust="spacingAndGlyphs">2993.40</text>
<text x="741.3" y="390" fill="#000" stroke="#000" textLength="33" lengthAdjust="spacingAndGlyphs">2973.60</text>
</g>
<g shape-rendering="crispEdges">
<rect x="737" y="21" width="41" height="11" fill="#008000"/>
<rect x="737" y="121" width="41" height="11" fill="#008000"/>
<rect x="737" y="169" width="41" height="11" fill="#ff0000"/>
<rect x="737" y="264" width="41" height="11" fill="#ff0000"/>
<rect x="737" y="146" width="41" height="11" fill="#000"/>
</g>
<text x="741.6" y="30" fill="#fff" stroke="#fff" textLength="33" lengthAdjust="spacingAndGlyphs">3191.65</text>
<text x="741.6" y="130" fill="#fff" stroke="#fff" textLength="33" lengthAdjust="spacingAndGlyphs">3130.76</text>
<text x="741.6" y="178" fill="#fff" stroke="#fff" textLength="33" lengthAdjust="spacingAndGlyphs">3101.62</text>
<text x="741.6" y="273" fill="#fff" stroke="#fff" textLength="33" lengthAdjust="spacingAndGlyphs">3043.74</text>
<text x="741.6" y="155" fill="#fff" stroke="#fff" textLength="33" lengthAdjust="spacingAndGlyphs">3116.15</text>
<text x="739.3" y="402" fill="#000" stroke="#000" textLength="28" lengthAdjust="spacingAndGlyphs">48.734</text>
<text x="739.3" y="447" fill="#000" stroke="#000" textLength="18" lengthAdjust="spacingAndGlyphs">0.00</text>
<text x="739.3" y="465" fill="#000" stroke="#000" textLength="30.6" lengthAdjust="spacingAndGlyphs">-23.137</text>
<text x="18.8" y="14" fill="#000" stroke="#000" textLength="62" lengthAdjust="spacingAndGlyphs">#Ethereum,M5</text>
<text x="87.3" y="14" fill="#000" stroke="#000" textLength="32.2" lengthAdjust="spacingAndGlyphs">3116.32</text>
<text x="123.3" y="14" fill="#000" stroke="#000" textLength="32.2" lengthAdjust="spacingAndGlyphs">3116.32</text>
<text x="159.6" y="14" fill="#000" stroke="#000" textLength="32.2" lengthAdjust="spacingAndGlyphs">3116.15</text>
<text x="195.7" y="14" fill="#000" stroke="#000" textLength="32.2" lengthAdjust="spacingAndGlyphs">3116.15</text>
<text x="7.8" y="404" fill="#000" stroke="#000" textLength="40" lengthAdjust="spacingAndGlyphs">AO 1.202</text>
<text x="2.7" y="481" fill="#000" stroke="#000" textLength="51.6" lengthAdjust="spacingAndGlyphs">14 Dec 2025</text>
<text x="66.7" y="481" fill="#000" stroke="#000" textLength="54.0" lengthAdjust="spacingAndGlyphs">14 Dec 18:55</text>
<text x="130.7" y="481" fill="#000" stroke="#000" textLength="54.0" lengthAdjust="spacingAndGlyphs">14 Dec 20:15</text>
<text x="194.7" y="481" fill="#000" stroke="#000" textLength="54.0" lengthAdjust="spacingAndGlyphs">14 Dec 21:35</text>
<text x="258.7" y="481" fill="#000" stroke="#000" textLength="54.0" lengthAdjust="spacingAndGlyphs">14 Dec 22:55</text>
<text x="322.7" y="481" fill="#000" stroke="#000" textLength="54.0" lengthAdjust="spacingAndGlyphs">15 Dec 00:15</text>
<text x="386.7" y="481" fill="#000" stroke="#000" textLength="54.0" lengthAdjust="spacingAndGlyphs">15 Dec 01:35</text>
<text x="450.7" y="481" fill="#000" stroke="#000" textLength="54.0" lengthAdjust="spacingAndGlyphs">15 Dec 02:55</text>
<text x="514.7" y="481" fill="#000" stroke="#000" textLength="54.0" lengthAdjust="spacingAndGlyphs">15 Dec 04:15</text>
<text x="578.7" y="481" fill="#000" stroke="#000" textLength="54.0" lengthAdjust="spacingAndGlyphs">15 Dec 05:35</text>
<text x="642.7" y="481" fill="#000" stroke="#000" textLength="54.0" lengthAdjust="spacingAndGlyphs">15 Dec 06:55</text>
<text x="706.7" y="481" fill="#000" stroke="#000" textLength="54.0" lengthAdjust="spacingAndGlyphs">15 Dec 08:15</text>
</g>
</svg>
</body></html>
